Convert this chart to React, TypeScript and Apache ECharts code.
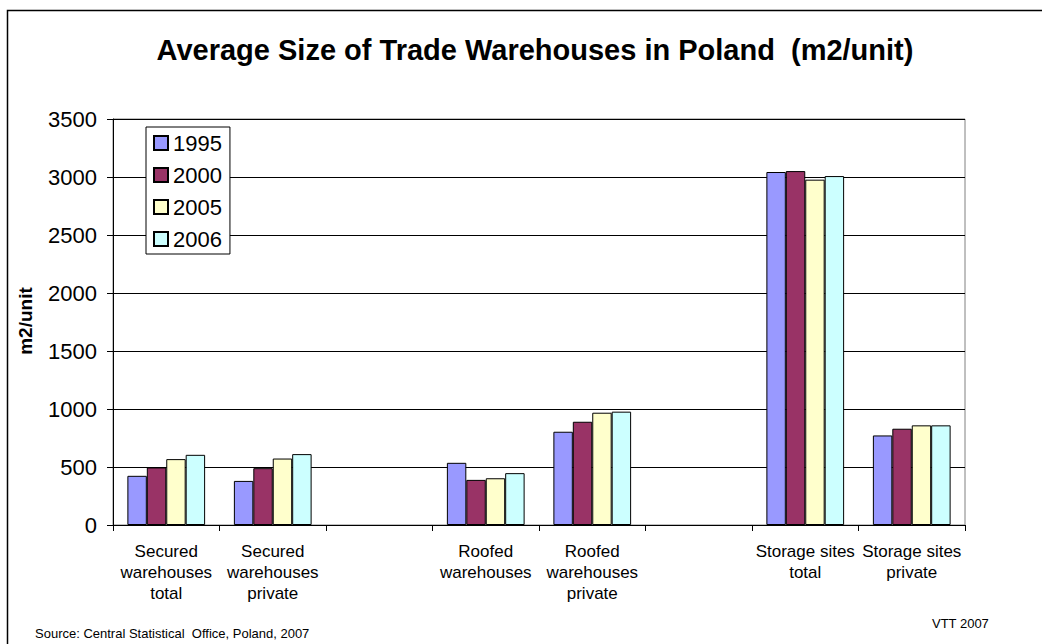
import React, { useEffect, useRef } from "react";
import * as echarts from "echarts";

const categories = [
  "Secured\nwarehouses\ntotal",
  "Secured\nwarehouses\nprivate",
  "",
  "Roofed\nwarehouses",
  "Roofed\nwarehouses\nprivate",
  "",
  "Storage sites\ntotal",
  "Storage sites\nprivate",
];
const seriesNames = ["1995", "2000", "2005", "2006"];
const v1995 = [424, 380, null, 536, 804, null, 3043, 772];
const v2000 = [496, 490, null, 389, 890, null, 3051, 830];
const v2005 = [568, 573, null, 403, 968, null, 2977, 859];
const v2006 = [605, 611, null, 447, 977, null, 3008, 859];
const colors = ["#9999FF", "#993366", "#FFFFCC", "#CCFFFF"];
const yTicks = { min: 0, max: 3500, interval: 500 };

const FONT = "'Liberation Sans', Arial, sans-serif";

export default function App() {
  const ref = useRef<HTMLDivElement>(null);
  useEffect(() => {
    document.body.style.margin = "0";
    const chart = echarts.init(ref.current!, null, { renderer: "svg" });
    const data = [v1995, v2000, v2005, v2006];
    chart.setOption({
      animation: false,
      backgroundColor: "#fff",
      textStyle: { fontFamily: FONT, color: "#000" },
      title: {
        text: "Average Size of Trade Warehouses in Poland  (m2/unit)",
        left: 530,
        textAlign: "center",
        top: 30,
        textStyle: { fontFamily: FONT, fontSize: 29, fontWeight: "bold", color: "#000" },
      },
      legend: {
        orient: "vertical",
        left: 146,
        top: 127,
        padding: [5, 8, 4, 7],
        itemGap: 10,
        itemWidth: 14,
        itemHeight: 14,
        icon: "rect",
        backgroundColor: "#fff",
        borderColor: "#000",
        borderWidth: 1,
        textStyle: { fontFamily: FONT, fontSize: 22, lineHeight: 22, color: "#000" },
        data: seriesNames,
      },
      grid: {
        left: 113,
        right: 77,
        top: 119,
        bottom: 119,
        show: true,
        borderColor: "#808080",
        borderWidth: 1,
      },
      xAxis: {
        type: "category",
        data: categories,
        boundaryGap: true,
        axisLine: { lineStyle: { color: "#000" } },
        axisTick: { show: true, alignWithLabel: false, interval: 0, length: 6, lineStyle: { color: "#000" } },
        axisLabel: {
          interval: 0,
          margin: 16,
          fontFamily: FONT,
          fontSize: 17,
          lineHeight: 21,
          color: "#000",
          align: "center",
        },
      },
      yAxis: {
        type: "value",
        min: yTicks.min,
        max: yTicks.max,
        interval: yTicks.interval,
        axisLine: { show: true, lineStyle: { color: "#000" } },
        axisTick: { show: true, length: 6, lineStyle: { color: "#000" } },
        axisLabel: {
          fontFamily: FONT,
          fontSize: 22,
          color: "#000",
          margin: 16,
          formatter: (v: number) => String(v),
        },
        splitLine: { show: true, lineStyle: { color: "#000", width: 1 } },
      },
      series: seriesNames.map((name, i) => ({
        name,
        type: "bar",
        data: data[i],
        barGap: "0%",
        barCategoryGap: "27%",
        itemStyle: { color: colors[i], borderColor: "#000", borderWidth: 1 },
      })),
      graphic: [
        {
          type: "rect",
          shape: { x: 7.5, y: 10.5, width: 1100, height: 700 },
          style: { fill: "none", stroke: "#000", lineWidth: 1.5 },
          silent: true,
        },
        {
          type: "text",
          x: 25,
          y: 321,
          rotation: Math.PI / 2,
          style: {
            text: "m2/unit",
            fontFamily: FONT,
            fontSize: 19,
            fontWeight: "bold",
            fill: "#000",
            align: "center",
            verticalAlign: "middle",
          },
        },
        {
          type: "text",
          x: 35,
          y: 633,
          style: {
            text: "Source: Central Statistical  Office, Poland, 2007",
            fontFamily: FONT,
            fontSize: 13,
            fill: "#000",
            verticalAlign: "middle",
          },
        },
        {
          type: "text",
          x: 932,
          y: 623,
          style: { text: "VTT 2007", fontFamily: FONT, fontSize: 13, fill: "#000", verticalAlign: "middle" },
        },
      ],
    });
    return () => chart.dispose();
  }, []);
  return <div ref={ref} style={{ width: 1042, height: 644 }} />;
}
